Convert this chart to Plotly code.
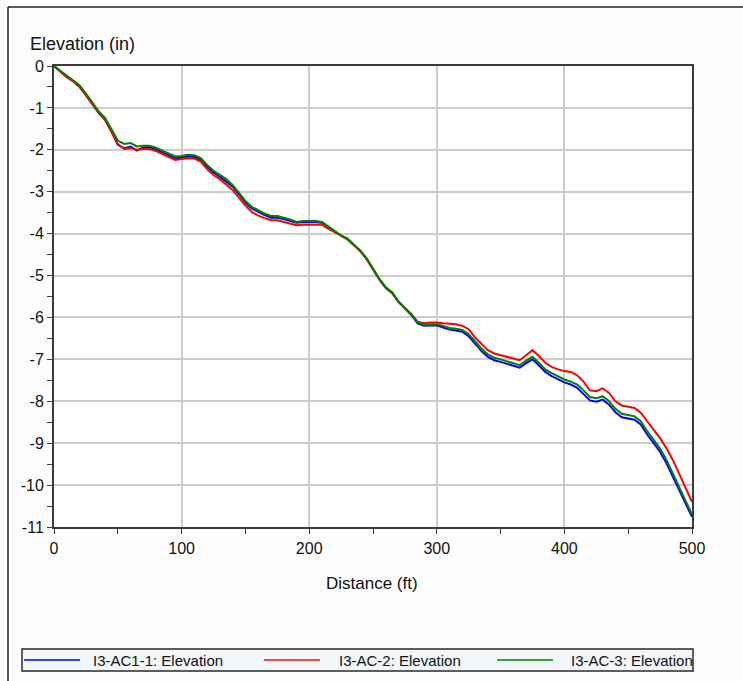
import plotly.graph_objects as go

# ---------------- data ----------------
DISTANCE_FT = [0, 5, 10, 15, 20, 25, 30, 35, 40, 45,
               50, 55, 60, 65, 70, 75, 80, 85, 90, 95,
               100, 105, 110, 115, 120, 125, 130, 135, 140, 145,
               150, 155, 160, 165, 170, 175, 180, 185, 190, 195,
               200, 205, 210, 215, 220, 225, 230, 235, 240, 245,
               250, 255, 260, 265, 270, 275, 280, 285, 290, 295,
               300, 305, 310, 315, 320, 325, 330, 335, 340, 345,
               350, 355, 360, 365, 370, 375, 380, 385, 390, 395,
               400, 405, 410, 415, 420, 425, 430, 435, 440, 445,
               450, 455, 460, 465, 470, 475, 480, 485, 490, 495,
               500]

ELEV_AC1_1 = [0, -0.13, -0.26, -0.36, -0.49, -0.69, -0.89, -1.11, -1.28, -1.56,
              -1.88, -1.96, -1.92, -2.02, -1.94, -1.94, -1.99, -2.06, -2.14, -2.20,
              -2.19, -2.16, -2.17, -2.24, -2.40, -2.54, -2.64, -2.75, -2.88, -3.06,
              -3.26, -3.40, -3.49, -3.56, -3.62, -3.62, -3.65, -3.69, -3.74, -3.72,
              -3.72, -3.72, -3.74, -3.85, -3.95, -4.05, -4.13, -4.27, -4.41, -4.60,
              -4.85, -5.09, -5.29, -5.41, -5.63, -5.79, -5.94, -6.14, -6.20, -6.19,
              -6.19, -6.24, -6.29, -6.31, -6.34, -6.45, -6.63, -6.80, -6.94, -7.02,
              -7.06, -7.11, -7.16, -7.20, -7.09, -7.00, -7.14, -7.30, -7.40, -7.47,
              -7.55, -7.60, -7.68, -7.83, -7.98, -8.01, -7.96, -8.08, -8.26, -8.38,
              -8.41, -8.44, -8.56, -8.80, -9.00, -9.21, -9.48, -9.80, -10.12, -10.47,
              -10.76]

ELEV_AC_2 = [0, -0.14, -0.27, -0.37, -0.50, -0.70, -0.90, -1.12, -1.29, -1.56,
             -1.86, -1.98, -1.96, -2.00, -1.98, -1.98, -2.03, -2.10, -2.18, -2.24,
             -2.22, -2.20, -2.21, -2.28, -2.46, -2.60, -2.70, -2.82, -2.96, -3.14,
             -3.33, -3.48, -3.57, -3.63, -3.68, -3.68, -3.72, -3.76, -3.80, -3.78,
             -3.78, -3.78, -3.79, -3.88, -3.97, -4.06, -4.14, -4.28, -4.42, -4.61,
             -4.86, -5.10, -5.30, -5.42, -5.63, -5.78, -5.92, -6.10, -6.14, -6.12,
             -6.12, -6.14, -6.15, -6.16, -6.20, -6.28, -6.48, -6.64, -6.78, -6.86,
             -6.90, -6.94, -6.98, -7.02, -6.90, -6.78, -6.92, -7.08, -7.18, -7.24,
             -7.28, -7.30, -7.38, -7.53, -7.74, -7.76, -7.69, -7.80, -8.00, -8.10,
             -8.13, -8.16, -8.28, -8.47, -8.68, -8.88, -9.12, -9.40, -9.72, -10.04,
             -10.40]

ELEV_AC_3 = [0, -0.12, -0.24, -0.34, -0.46, -0.66, -0.86, -1.08, -1.24, -1.50,
             -1.78, -1.86, -1.84, -1.92, -1.90, -1.90, -1.95, -2.02, -2.10, -2.16,
             -2.15, -2.12, -2.13, -2.20, -2.36, -2.50, -2.60, -2.70, -2.84, -3.02,
             -3.22, -3.36, -3.45, -3.52, -3.58, -3.58, -3.62, -3.66, -3.72, -3.70,
             -3.70, -3.70, -3.72, -3.84, -3.94, -4.04, -4.12, -4.26, -4.40, -4.59,
             -4.84, -5.08, -5.28, -5.40, -5.62, -5.78, -5.92, -6.12, -6.18, -6.16,
             -6.16, -6.20, -6.25, -6.27, -6.30, -6.40, -6.58, -6.74, -6.88, -6.96,
             -7.00, -7.05, -7.10, -7.14, -7.03, -6.94, -7.08, -7.24, -7.33, -7.40,
             -7.48, -7.53, -7.60, -7.74, -7.90, -7.93, -7.88, -8.00, -8.18, -8.30,
             -8.33, -8.36, -8.48, -8.72, -8.92, -9.13, -9.40, -9.72, -10.04, -10.40,
             -10.70]

SERIES_NAMES = ["I3-AC1-1: Elevation", "I3-AC-2: Elevation", "I3-AC-3: Elevation"]
SERIES_VALUES = [ELEV_AC1_1, ELEV_AC_2, ELEV_AC_3]
SERIES_COLORS = ["#0000FF", "#FF0000", "#008000"]

X_TICKS = [0, 100, 200, 300, 400, 500]
X_TICK_TEXT = ["0", "100", "200", "300", "400", "500"]
Y_TICKS = [0, -1, -2, -3, -4, -5, -6, -7, -8, -9, -10, -11]
Y_TICK_TEXT = ["0", "-1", "-2", "-3", "-4", "-5", "-6", "-7", "-8", "-9", "-10", "-11"]

FONT = "Liberation Sans, Arial, sans-serif"
AXIS_COLOR = "#3a3a3a"
GRID_COLOR = "#cccccc"

# ---------------- figure ----------------
W, H = 743, 681
ML, MR, MT, MB = 54, 51, 66, 154
PW, PH = W - ML - MR, H - MT - MB


def px_x(p):
    return (p - ML) / PW


def px_y(p):
    return 1 - (p - MT) / PH


fig = go.Figure()
for name, vals, col in zip(SERIES_NAMES, SERIES_VALUES, SERIES_COLORS):
    fig.add_trace(go.Scatter(x=DISTANCE_FT, y=vals, mode="lines", name=name,
                             line=dict(color=col, width=2), showlegend=False))

axis_common = dict(showline=True, linecolor=AXIS_COLOR, linewidth=2, mirror=True,
                   gridcolor=GRID_COLOR, gridwidth=2, zeroline=False,
                   ticks="outside", ticklen=5, tickwidth=1, tickcolor=AXIS_COLOR,
                   tickfont=dict(family=FONT, size=16, color="#111111"))

fig.update_layout(
    width=W, height=H,
    margin=dict(l=ML, r=MR, t=MT, b=MB),
    paper_bgcolor="#fefefe", plot_bgcolor="#ffffff",
    font=dict(family=FONT, size=16, color="#111111"),
    xaxis=dict(range=[0, 500], tickmode="array", tickvals=X_TICKS, ticktext=X_TICK_TEXT,
               minor=dict(dtick=50, tick0=0, ticks="outside", ticklen=5,
                          tickcolor=AXIS_COLOR, showgrid=False),
               ticklabelstandoff=1, **axis_common),
    yaxis=dict(range=[-11, 0], tickmode="array", tickvals=Y_TICKS, ticktext=Y_TICK_TEXT,
               minor=dict(dtick=0.5, tick0=0, ticks="outside", ticklen=5,
                          tickcolor=AXIS_COLOR, showgrid=False),
               **axis_common),
    # overlay axes to draw the inner half of the crossing tick marks
    xaxis2=dict(overlaying="x", anchor="y", side="bottom", range=[0, 500],
                tickmode="linear", tick0=0, dtick=50, ticks="inside", ticklen=4,
                tickcolor=AXIS_COLOR, showticklabels=False, showgrid=False,
                showline=False, zeroline=False),
    yaxis2=dict(overlaying="y", anchor="x", side="left", range=[-11, 0],
                tickmode="linear", tick0=0, dtick=0.5, ticks="inside", ticklen=4,
                tickcolor=AXIS_COLOR, showticklabels=False, showgrid=False,
                showline=False, zeroline=False),
    showlegend=False,
)

# axis titles
fig.add_annotation(text="Elevation (in)", xref="paper", yref="paper",
                   x=px_x(28), y=px_y(44.5), xanchor="left", yanchor="middle",
                   showarrow=False, font=dict(family=FONT, size=18, color="#111111"))
fig.add_annotation(text="Distance (ft)", xref="paper", yref="paper",
                   x=px_x(372), y=px_y(583), xanchor="center", yanchor="middle",
                   showarrow=False, font=dict(family=FONT, size=17, color="#111111"))

shapes = []
# outer frame (top and left edges)
shapes.append(dict(type="line", xref="paper", yref="paper", x0=px_x(8), x1=px_x(760),
                   y0=px_y(7), y1=px_y(7), line=dict(color="#222222", width=1.5)))
shapes.append(dict(type="line", xref="paper", yref="paper", x0=px_x(8), x1=px_x(8),
                   y0=px_y(7), y1=px_y(700), line=dict(color="#222222", width=1.5)))

# legend box
LEG_L, LEG_R, LEG_T, LEG_B = 22, 693, 649, 671
shapes.append(dict(type="rect", xref="paper", yref="paper",
                   x0=px_x(LEG_L), x1=px_x(LEG_R), y0=px_y(LEG_B), y1=px_y(LEG_T),
                   fillcolor="#f2f7fc", line=dict(color="#2a2a2a", width=1.5), layer="below"))
leg_mid = (LEG_T + LEG_B) / 2
line_starts = [24, 264, 497]
text_starts = [91, 337, 569]
for name, col, ls, ts in zip(SERIES_NAMES, SERIES_COLORS, line_starts, text_starts):
    shapes.append(dict(type="line", xref="paper", yref="paper",
                       x0=px_x(ls), x1=px_x(ls + 56), y0=px_y(leg_mid), y1=px_y(leg_mid),
                       line=dict(color=col, width=1.5)))
    fig.add_annotation(text=name, xref="paper", yref="paper", x=px_x(ts), y=px_y(leg_mid),
                       xanchor="left", yanchor="middle", showarrow=False,
                       font=dict(family=FONT, size=15, color="#111111"))

fig.update_layout(shapes=shapes)
fig.write_html("out.html")
